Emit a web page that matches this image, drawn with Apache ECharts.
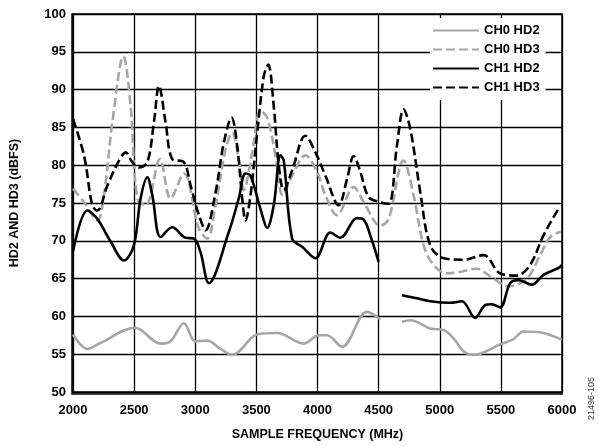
<!DOCTYPE html>
<html>
<head>
<meta charset="utf-8">
<script src="https://cdn.jsdelivr.net/npm/echarts@6/dist/echarts.min.js"></script>
<style>
  html, body { margin: 0; padding: 0; background: #fff; }
  #chart { width: 599px; height: 446px; }
</style>
</head>
<body>
<div id="chart"></div>
<script>
// values; null marks the gap near 4600 MHz
const ch0Hd2Freq = [2000, 2118, 2226, 2507, 2717, 2798, 2907, 3002, 3098, 3207, 3302, 3506, 3670, 3887, 4010, 4078, 4201, 4405, 4514, 4600, 4691, 4759, 4922, 5031, 5113, 5194, 5276, 5494, 5603, 5685, 5848, 6000]
const ch0Hd2Val = [57.6, 55.7, 56.5, 58.5, 56.4, 56.7, 59.1, 56.7, 56.8, 55.7, 54.9, 57.6, 57.8, 56.4, 57.5, 57.5, 56.0, 60.6, 59.6, null, 59.3, 59.5, 58.4, 58.2, 57.1, 55.4, 54.9, 56.3, 57.0, 58.0, 57.8, 56.9]

const ch1Hd2Freq = [2000, 2118, 2199, 2308, 2417, 2498, 2553, 2608, 2649, 2717, 2812, 2921, 2989, 3043, 3111, 3275, 3356, 3411, 3452, 3534, 3588, 3642, 3697, 3724, 3792, 3874, 3983, 4105, 4187, 4323, 4378, 4432, 4500, 4600, 4691, 4814, 4922, 5086, 5181, 5290, 5372, 5426, 5494, 5576, 5644, 5753, 5848, 5971, 6000]
const ch1Hd2Val = [68.6, 74.0, 72.9, 69.9, 67.4, 69.4, 75.6, 78.4, 76.0, 70.5, 71.8, 70.4, 70.3, 68.5, 64.4, 71.2, 75.6, 78.9, 78.6, 74.2, 71.7, 74.7, 81.3, 80.6, 70.3, 69.2, 67.7, 71.1, 70.4, 73.0, 72.8, 70.7, 67.2, null, 62.8, 62.4, 62.0, 61.8, 62.0, 59.8, 61.5, 61.6, 61.2, 64.4, 64.8, 64.2, 65.5, 66.4, 66.8]

const ch0Hd3Freq = [2000, 2090, 2199, 2253, 2322, 2412, 2471, 2526, 2594, 2711, 2798, 2907, 3030, 3098, 3166, 3248, 3302, 3356, 3397, 3466, 3534, 3588, 3656, 3716, 3792, 3901, 3997, 4065, 4160, 4296, 4378, 4514, 4582, 4704, 4786, 4868, 4949, 5059, 5140, 5304, 5413, 5562, 5712, 5821, 5903, 5990]
const ch0Hd3Val = [76.9, 75.1, 72.7, 76.0, 85.7, 94.4, 87.8, 75.6, 74.7, 80.8, 75.6, 78.9, 71.6, 70.3, 74.7, 82.1, 84.3, 80.8, 76.7, 81.7, 87.2, 86.3, 81.3, 76.0, 78.6, 81.3, 79.1, 76.0, 73.4, 77.1, 75.1, 72.0, 72.9, 80.6, 76.0, 69.4, 66.8, 65.7, 65.8, 66.3, 65.3, 64.0, 65.0, 68.1, 70.5, 71.2]

const ch1Hd3Freq = [2000, 2090, 2158, 2199, 2281, 2376, 2431, 2485, 2539, 2608, 2662, 2703, 2757, 2812, 2907, 2962, 3030, 3084, 3166, 3234, 3297, 3343, 3384, 3411, 3452, 3507, 3561, 3597, 3642, 3683, 3724, 3792, 3901, 3983, 4065, 4173, 4242, 4296, 4351, 4418, 4514, 4582, 4650, 4704, 4759, 4841, 4922, 5031, 5194, 5358, 5494, 5630, 5739, 5848, 5971, 5990]
const ch1Hd3Val = [86.1, 81.3, 74.7, 74.0, 77.3, 80.6, 81.7, 80.4, 79.7, 80.4, 85.7, 90.5, 85.7, 80.8, 80.4, 77.3, 73.4, 71.4, 76.4, 83.0, 86.3, 82.6, 75.6, 72.7, 76.0, 84.3, 91.8, 93.3, 87.8, 80.0, 76.7, 79.3, 83.9, 81.7, 78.6, 74.7, 78.2, 81.2, 79.1, 75.8, 75.1, 74.9, 82.6, 87.4, 84.8, 76.4, 69.4, 67.7, 67.5, 68.1, 65.7, 65.4, 66.8, 70.7, 74.2, 74.4]

const seriesNames = ['CH0 HD2', 'CH0 HD3', 'CH1 HD2', 'CH1 HD3']

const font = 'Arial, "Liberation Sans", sans-serif'
const gray = '#a6a6a6'

const pairs = (xs, ys) => xs.map((x, i) => [x, ys[i] == null ? '-' : ys[i]])

const makeLine = (name, xs, ys, color, dashed) => ({
  name,
  type: 'line',
  data: pairs(xs, ys),
  smooth: 0.35,
  symbol: 'none',
  connectNulls: false,
  lineStyle: { color, width: 2.6, type: dashed ? [9, 4] : 'solid' },
  itemStyle: { color }
})

const chart = echarts.init(document.getElementById('chart'))
chart.setOption({
  backgroundColor: '#fff',
  animation: false,
  grid: { left: 72, right: 37, top: 14, bottom: 52 },
  legend: {
    orient: 'vertical',
    left: 430,
    top: 18,
    data: seriesNames,
    itemWidth: 46,
    itemHeight: 12,
    itemGap: 6,
    backgroundColor: '#fff',
    padding: [6, 6, 6, 2],
    itemStyle: { opacity: 0 },
    textStyle: { fontFamily: font, fontWeight: 'bold', fontSize: 13, color: '#000' }
  },
  xAxis: {
    type: 'value',
    min: 2000,
    max: 6000,
    interval: 500,
    name: 'SAMPLE FREQUENCY (MHz)',
    nameLocation: 'middle',
    nameGap: 36,
    nameTextStyle: { fontFamily: font, fontWeight: 'bold', fontSize: 12.5, color: '#000' },
    axisLine: { lineStyle: { color: '#000', width: 1.5 } },
    axisTick: { show: false },
    axisLabel: { fontFamily: font, fontWeight: 'bold', fontSize: 13, color: '#000', margin: 12, formatter: v => String(v) },
    splitLine: { lineStyle: { color: '#000', width: 1.3 } }
  },
  yAxis: {
    type: 'value',
    min: 50,
    max: 100,
    interval: 5,
    name: 'HD2 AND HD3 (dBFS)',
    nameLocation: 'middle',
    nameGap: 52,
    nameTextStyle: { fontFamily: font, fontWeight: 'bold', fontSize: 12.5, color: '#000' },
    axisLine: { show: true, lineStyle: { color: '#000', width: 1.5 } },
    axisTick: { show: false },
    axisLabel: { fontFamily: font, fontWeight: 'bold', fontSize: 13, color: '#000', margin: 7 },
    splitLine: { lineStyle: { color: '#000', width: 1.3 } }
  },
  graphic: [
    {
      type: 'rect',
      shape: { x: 72, y: 14, width: 490, height: 380 },
      style: { fill: 'none', stroke: '#000', lineWidth: 1.5 },
      silent: true,
      z: 0
    },
    {
      type: 'text',
      x: 587,
      y: 420,
      rotation: Math.PI / 2,
      style: { text: '21496-105', font: '9px ' + font, fill: '#333' }
    }
  ],
  series: [
    makeLine('CH0 HD2', ch0Hd2Freq, ch0Hd2Val, gray, false),
    makeLine('CH0 HD3', ch0Hd3Freq, ch0Hd3Val, gray, true),
    makeLine('CH1 HD2', ch1Hd2Freq, ch1Hd2Val, '#000', false),
    makeLine('CH1 HD3', ch1Hd3Freq, ch1Hd3Val, '#000', true)
  ]
})
</script>
</body>
</html>
